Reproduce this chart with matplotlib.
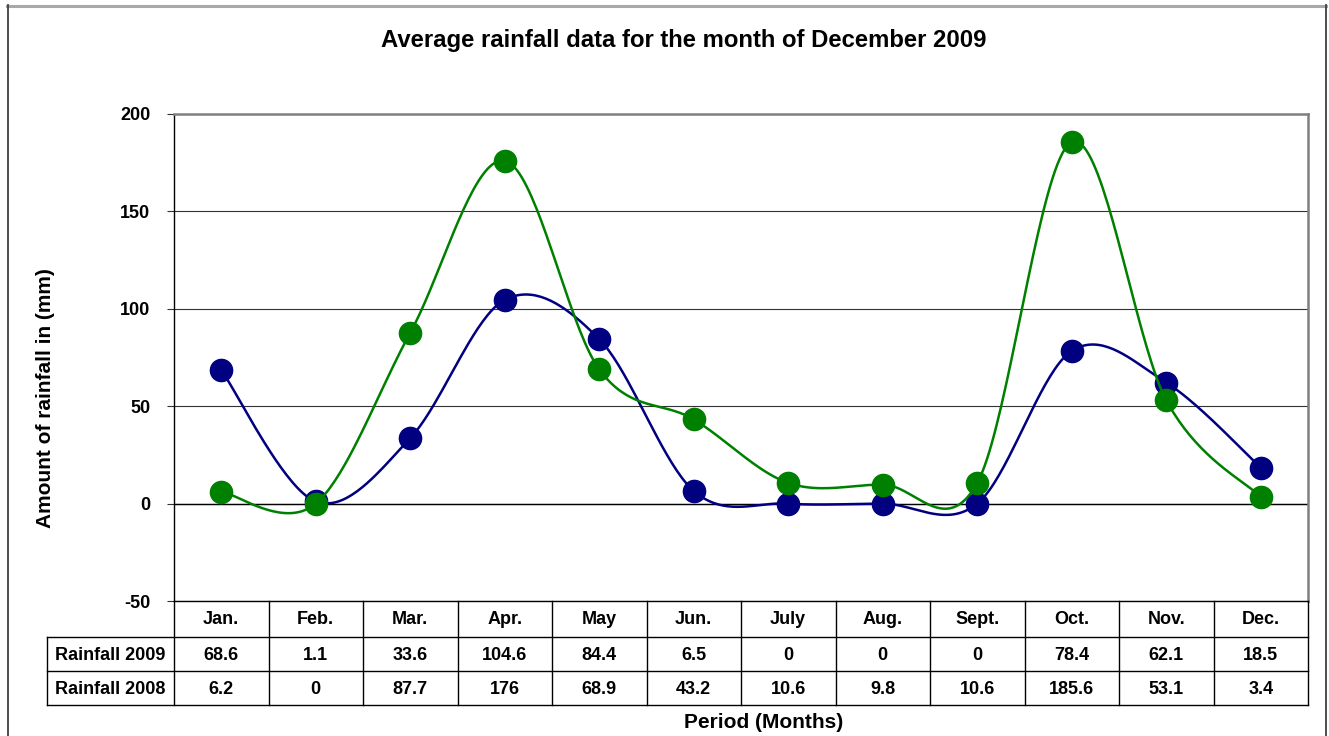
import numpy as np
import matplotlib
matplotlib.use('Agg')
import matplotlib.pyplot as plt
from matplotlib.lines import Line2D
from matplotlib.transforms import blended_transform_factory

months = ['Jan.', 'Feb.', 'Mar.', 'Apr.', 'May', 'Jun.', 'July', 'Aug.',
          'Sept.', 'Oct.', 'Nov.', 'Dec.']
rain_2009 = [68.6, 1.1, 33.6, 104.6, 84.4, 6.5, 0, 0, 0, 78.4, 62.1, 18.5]
rain_2008 = [6.2, 0, 87.7, 176, 68.9, 43.2, 10.6, 9.8, 10.6, 185.6, 53.1, 3.4]
series_labels = ['Rainfall 2009', 'Rainfall 2008']
series_colors = ['#000080', '#008000']
y_ticks = [-50, 0, 50, 100, 150, 200]

plt.rcParams['font.family'] = ['Liberation Sans', 'DejaVu Sans']
plt.rcParams['font.weight'] = 'bold'

W, H = 1329, 736
fig = plt.figure(figsize=(W / 100, H / 100), dpi=100)
L, R, T, B = 174, 1308, 114, 601
ax = fig.add_axes([L / W, 1 - B / H, (R - L) / W, (B - T) / H])

# outer chart border
fig.add_artist(Line2D([7 / W, 1326 / W], [1 - 5.5 / H] * 2, color='#a8a8a8', lw=2.2))
fig.add_artist(Line2D([7.5 / W] * 2, [0, 1 - 5 / H], color='#404040', lw=1.3))
fig.add_artist(Line2D([1326 / W] * 2, [0, 1 - 5 / H], color='#404040', lw=1.3))


def smooth(xs, ys, n=40):
    pts = np.column_stack([xs, ys]).astype(float)
    N = len(pts)
    out = []
    t = np.linspace(0, 1, n)[:, None]
    for i in range(N - 1):
        p0 = pts[max(i - 1, 0)]
        p1 = pts[i]
        p2 = pts[i + 1]
        p3 = pts[min(i + 2, N - 1)]
        c1 = p1 + (p2 - p0) / 6
        c2 = p2 - (p3 - p1) / 6
        seg = ((1 - t) ** 3) * p1 + 3 * ((1 - t) ** 2) * t * c1 + 3 * (1 - t) * t ** 2 * c2 + t ** 3 * p2
        out.append(seg if i == 0 else seg[1:])
    out = np.vstack(out)
    return out[:, 0], out[:, 1]


x = np.arange(len(months))
for k, (vals, col) in enumerate(zip([rain_2009, rain_2008], series_colors)):
    sx, sy = smooth(x, vals)
    ax.plot(sx, sy, color=col, lw=1.8, zorder=3 + 2 * k)
    ax.plot(x, vals, 'o', color=col, ms=16, mec=col, zorder=4 + 2 * k)

FS = 13
ax.set_xlim(-0.5, len(months) - 0.5)
ax.set_ylim(y_ticks[0], y_ticks[-1])
ax.set_yticks(y_ticks)
ax.set_yticklabels([str(v) for v in y_ticks], fontsize=FS, fontweight='bold')
ax.set_xticks([])
ax.tick_params(axis='y', length=5, width=0.8, color='#333333', pad=12)
ax.grid(axis='y', color='#333333', lw=0.8, zorder=1)
ax.axhline(0, color='black', lw=1.0, zorder=2)
for s in ['top', 'right']:
    ax.spines[s].set_color('#808080')
    ax.spines[s].set_linewidth(1.8)
for s in ['left', 'bottom']:
    ax.spines[s].set_color('black')
    ax.spines[s].set_linewidth(1.0)

# data table below the plot
tr = blended_transform_factory(ax.transData, fig.transFigure)
row_edges = [601, 637, 671, 705]
label_left = 47
for i in range(len(months) + 1):
    fig.add_artist(Line2D([i - 0.5] * 2, [1 - row_edges[0] / H, 1 - row_edges[-1] / H],
                          transform=tr, color='black', lw=1.0))
for yy in row_edges[1:]:
    fig.add_artist(Line2D([label_left / W, R / W], [1 - yy / H] * 2, color='black', lw=1.0))
fig.add_artist(Line2D([label_left / W] * 2, [1 - row_edges[1] / H, 1 - row_edges[-1] / H],
                      color='black', lw=1.0))

ycent = [(row_edges[i] + row_edges[i + 1]) / 2 + 1 for i in range(3)]
for i, m in enumerate(months):
    fig.text(i, 1 - ycent[0] / H, m, transform=tr, ha='center', va='center',
             fontsize=FS, fontweight='bold')
for r, (vals, lab) in enumerate(zip([rain_2009, rain_2008], series_labels)):
    yc = 1 - ycent[r + 1] / H
    fig.text((label_left + L) / 2 / W, yc, lab, ha='center', va='center',
             fontsize=FS, fontweight='bold')
    for i, v in enumerate(vals):
        fig.text(i, yc, f'{v:g}', transform=tr, ha='center', va='center',
                 fontsize=FS, fontweight='bold')

fig.text(684 / W, 1 - 40 / H, 'Average rainfall data for the month of December 2009',
         ha='center', va='center', fontsize=17.2, fontweight='bold')
fig.text(46 / W, 1 - 398 / H, 'Amount of rainfall in (mm)', rotation=90,
         ha='center', va='center', fontsize=15, fontweight='bold')
fig.text(764 / W, 1 - 723 / H, 'Period (Months)', ha='center', va='center',
         fontsize=15, fontweight='bold')

fig.savefig('out.png', dpi=100)
